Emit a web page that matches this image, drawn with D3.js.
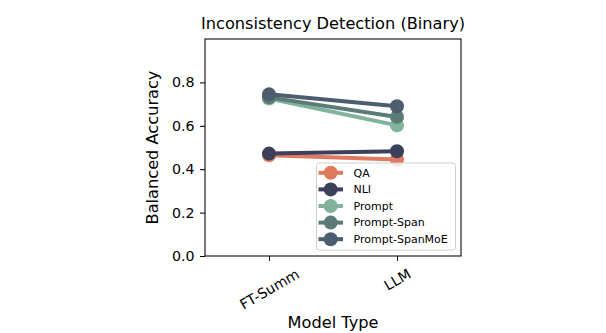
<!DOCTYPE html>
<html>
<head>
<meta charset="utf-8">
<script src="https://cdn.jsdelivr.net/npm/d3@7"></script>
<style>
body { margin: 0; background: #fff; }
text { font-family: "DejaVu Sans", sans-serif; fill: #000; }
</style>
</head>
<body>
<div id="chart"></div>
<script>
// Categories and series
var categories = ["FT-Summ", "LLM"];
var seriesNames = ["QA", "NLI", "Prompt", "Prompt-Span", "Prompt-SpanMoE"];
var qaValues = [0.464, 0.445];
var nliValues = [0.472, 0.483];
var promptValues = [0.726, 0.602];
var promptSpanValues = [0.731, 0.641];
var promptSpanMoEValues = [0.745, 0.690];
var yTicks = [0.0, 0.2, 0.4, 0.6, 0.8];
var colors = ["#e07a5f", "#3d405b", "#81b29a", "#5b7b76", "#4b5d6f"];

var allValues = [qaValues, nliValues, promptValues, promptSpanValues, promptSpanMoEValues];
var series = seriesNames.map(function(name, i) {
  return { name: name, color: colors[i], values: allValues[i] };
});

var svgWidth = 606;
var svgHeight = 333;
var margin = { top: 39, right: 145, bottom: 77, left: 205 };
var chartWidth = svgWidth - margin.left - margin.right;
var chartHeight = svgHeight - margin.top - margin.bottom;

var svg = d3.select("#chart")
  .append("svg")
  .attr("width", svgWidth)
  .attr("height", svgHeight);

var chartGroup = svg.append("g")
  .attr("transform", "translate(" + margin.left + "," + margin.top + ")");

// categorical x like matplotlib: positions 0,1 with limits -0.5..1.5
var xScale = d3.scaleLinear().domain([-0.5, 1.5]).range([0, chartWidth]);
var yScale = d3.scaleLinear().domain([0, 1]).range([chartHeight, 0]);

var tickFont = 14.2;

// axes
var bottomAxis = d3.axisBottom(xScale)
  .tickValues([0, 1])
  .tickFormat(function(d) { return categories[d]; })
  .tickSize(5).tickPadding(3);
var leftAxis = d3.axisLeft(yScale)
  .tickValues(yTicks)
  .tickFormat(d3.format(".1f"))
  .tickSize(5).tickPadding(5.5);

var xAxisG = chartGroup.append("g")
  .attr("transform", "translate(0," + chartHeight + ")")
  .call(bottomAxis);
xAxisG.select(".domain").remove();
xAxisG.selectAll("line").attr("stroke", "#000").attr("stroke-width", 1.05);
// rotated labels centred on the tick, top of rotated box just under the tick
xAxisG.selectAll(".tick text")
  .attr("font-size", tickFont + "px")
  .attr("font-family", "DejaVu Sans")
  .style("text-anchor", "middle")
  .attr("x", 0)
  .attr("y", 0)
  .attr("dy", "0.35em")
  .each(function() {
    var w = this.getComputedTextLength();
    var h = tickFont;
    var boxH = w * 0.5 + h * 0.866;
    d3.select(this).attr("transform",
      "translate(0," + (10.5 + boxH / 2) + ") rotate(-30)");
  });

var yAxisG = chartGroup.append("g").call(leftAxis);
yAxisG.select(".domain").remove();
yAxisG.selectAll("line").attr("stroke", "#000").attr("stroke-width", 1.05);
yAxisG.selectAll("text")
  .attr("font-size", tickFont + "px")
  .attr("font-family", "DejaVu Sans");

// lines and points
var line = d3.line()
  .x(function(d, i) { return xScale(i); })
  .y(function(d) { return yScale(d); });

series.forEach(function(s) {
  chartGroup.append("path")
    .datum(s.values)
    .attr("fill", "none")
    .attr("stroke", s.color)
    .attr("stroke-width", 4)
    .attr("d", line);
  chartGroup.selectAll(".pt-" + s.name)
    .data(s.values)
    .enter()
    .append("circle")
    .attr("cx", function(d, i) { return xScale(i); })
    .attr("cy", function(d) { return yScale(d); })
    .attr("r", 7)
    .attr("fill", s.color);
});

// frame
chartGroup.append("rect")
  .attr("width", chartWidth)
  .attr("height", chartHeight)
  .attr("fill", "none")
  .attr("stroke", "#000")
  .attr("stroke-width", 1.05);

// legend
var legend = chartGroup.append("g")
  .attr("transform", "translate(" + (316.5 - margin.left) + "," + (163 - margin.top) + ")");
legend.append("rect")
  .attr("width", 139)
  .attr("height", 87)
  .attr("rx", 2.5)
  .attr("fill", "#fff")
  .attr("fill-opacity", 0.8)
  .attr("stroke", "#d0d0d0")
  .attr("stroke-width", 1);
series.forEach(function(s, i) {
  var yy = 9.8 + i * 16.6;
  legend.append("line")
    .attr("x1", 2).attr("x2", 26.5)
    .attr("y1", yy).attr("y2", yy)
    .attr("stroke", s.color)
    .attr("stroke-width", 4);
  legend.append("circle")
    .attr("cx", 14.2).attr("cy", yy).attr("r", 7)
    .attr("fill", s.color);
  legend.append("text")
    .attr("x", 37).attr("y", yy)
    .attr("dy", "0.35em")
    .attr("font-size", "11px")
    .text(s.name);
});

// title and axis labels
svg.append("text")
  .attr("x", margin.left + chartWidth / 2)
  .attr("y", 29)
  .attr("text-anchor", "middle")
  .attr("font-size", "16.2px")
  .text("Inconsistency Detection (Binary)");

svg.append("text")
  .attr("transform", "rotate(-90)")
  .attr("x", -(margin.top + chartHeight / 2))
  .attr("y", 158)
  .attr("text-anchor", "middle")
  .attr("font-size", "16.2px")
  .text("Balanced Accuracy");

svg.append("text")
  .attr("x", margin.left + chartWidth / 2)
  .attr("y", 328)
  .attr("text-anchor", "middle")
  .attr("font-size", "16.2px")
  .text("Model Type");
</script>
</body>
</html>
